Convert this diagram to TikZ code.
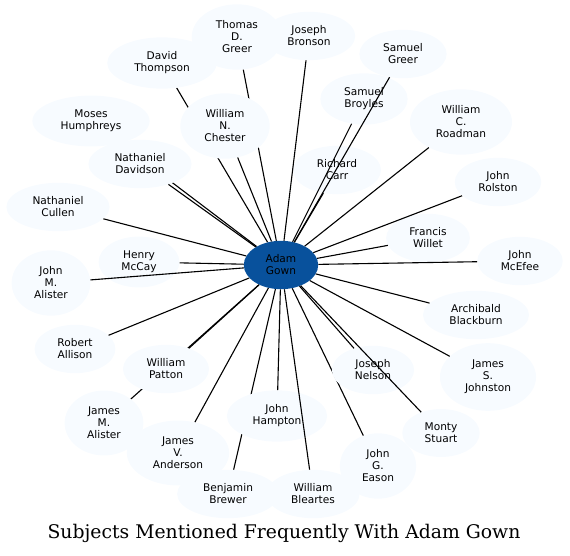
\documentclass[tikz,border=0pt]{standalone}
\usepackage{fontspec}
\setmainfont{DejaVu Sans}
\newfontfamily\titlefont{DejaVu Serif}
\usetikzlibrary{shapes.geometric,backgrounds}
\definecolor{NodeFill}{HTML}{F7FBFF}
\definecolor{CenterFill}{HTML}{08519C}
\tikzset{
  personbox/.style={
    ellipse, fill=NodeFill, align=center, inner xsep=11pt, inner ysep=7pt,
    font=\fontsize{10.6}{12}\selectfont
  },
  centerbox/.style={personbox, fill=CenterFill},
  linkline/.style={black, line width=1.1pt},
}
\begin{document}
\begin{tikzpicture}[x=1pt, y=-1pt]
    \useasboundingbox (0,0) rectangle (570,556);
    % subjects
    \node[centerbox] (adam) at (281,265) {Adam\\Gown};
    \node[personbox] (tgreer) at (237,37) {Thomas\\D.\\Greer};
    \node[personbox] (bronson) at (309,36) {Joseph\\Bronson};
    \node[personbox] (sgreer) at (403,54) {Samuel\\Greer};
    \node[personbox] (thompson) at (162,63) {David\\Thompson};
    \node[personbox] (chester) at (225,126) {William\\N.\\Chester};
    \node[personbox] (broyles) at (364,99) {Samuel\\Broyles};
    \node[personbox] (roadman) at (461,122) {William\\C.\\Roadman};
    \node[personbox] (moses) at (91,121) {Moses\\Humphreys};
    \node[personbox] (davidson) at (140,164) {Nathaniel\\Davidson};
    \node[personbox] (carr) at (337,170) {Richard\\Carr};
    \node[personbox] (rolston) at (498,182) {John\\Rolston};
    \node[personbox] (cullen) at (58,207) {Nathaniel\\Cullen};
    \node[personbox] (willet) at (428,238) {Francis\\Willet};
    \node[personbox] (mcefee) at (520,261) {John\\McEfee};
    \node[personbox] (mccay) at (139,262) {Henry\\McCay};
    \node[personbox] (jmalister) at (51,283) {John\\M.\\Alister};
    \node[personbox] (blackburn) at (476,315) {Archibald\\Blackburn};
    \node[personbox] (allison) at (75,349) {Robert\\Allison};
    \node[personbox] (patton) at (166,369) {William\\Patton};
    \node[personbox] (nelson) at (373,370) {Joseph\\Nelson};
    \node[personbox] (johnston) at (488,377) {James\\S.\\Johnston};
    \node[personbox] (jamalister) at (104,423) {James\\M.\\Alister};
    \node[personbox] (hampton) at (277,416) {John\\Hampton};
    \node[personbox] (stuart) at (441,433) {Monty\\Stuart};
    \node[personbox] (anderson) at (178,453) {James\\V.\\Anderson};
    \node[personbox] (eason) at (378,466) {John\\G.\\Eason};
    \node[personbox] (brewer) at (228,494) {Benjamin\\Brewer};
    \node[personbox] (bleartes) at (313,494) {William\\Bleartes};
    % links hidden behind other subjects
    \begin{scope}[on background layer]
      \draw[linkline] (adam) -- (tgreer);
      \draw[linkline] (adam) -- (thompson);
      \draw[linkline] (adam) -- (moses);
      \draw[linkline] (adam) -- (jamalister);
      \draw[linkline] (adam) -- (brewer);
      \draw[linkline] (adam) -- (eason);
    \end{scope}
    % links on top
    \draw[linkline] (adam) -- (bronson);
    \draw[linkline] (adam) -- (sgreer);
    \draw[linkline] (adam) -- (chester);
    \draw[linkline] (adam) -- (broyles);
    \draw[linkline] (adam) -- (roadman);
    \draw[linkline] (adam) -- (davidson);
    \draw[linkline] (adam) -- (carr);
    \draw[linkline] (adam) -- (rolston);
    \draw[linkline] (adam) -- (cullen);
    \draw[linkline] (adam) -- (willet);
    \draw[linkline] (adam) -- (mcefee);
    \draw[linkline] (adam) -- (mccay);
    \draw[linkline] (adam) -- (jmalister);
    \draw[linkline] (adam) -- (blackburn);
    \draw[linkline] (adam) -- (allison);
    \draw[linkline] (adam) -- (patton);
    \draw[linkline] (adam) -- (nelson);
    \draw[linkline] (adam) -- (johnston);
    \draw[linkline] (adam) -- (hampton);
    \draw[linkline] (adam) -- (stuart);
    \draw[linkline] (adam) -- (anderson);
    \draw[linkline] (adam) -- (bleartes);
    % title
    \node[font=\titlefont\fontsize{18.8}{22}\selectfont] (title) at (284,533) {Subjects Mentioned Frequently With Adam Gown};
\end{tikzpicture}
\end{document}
